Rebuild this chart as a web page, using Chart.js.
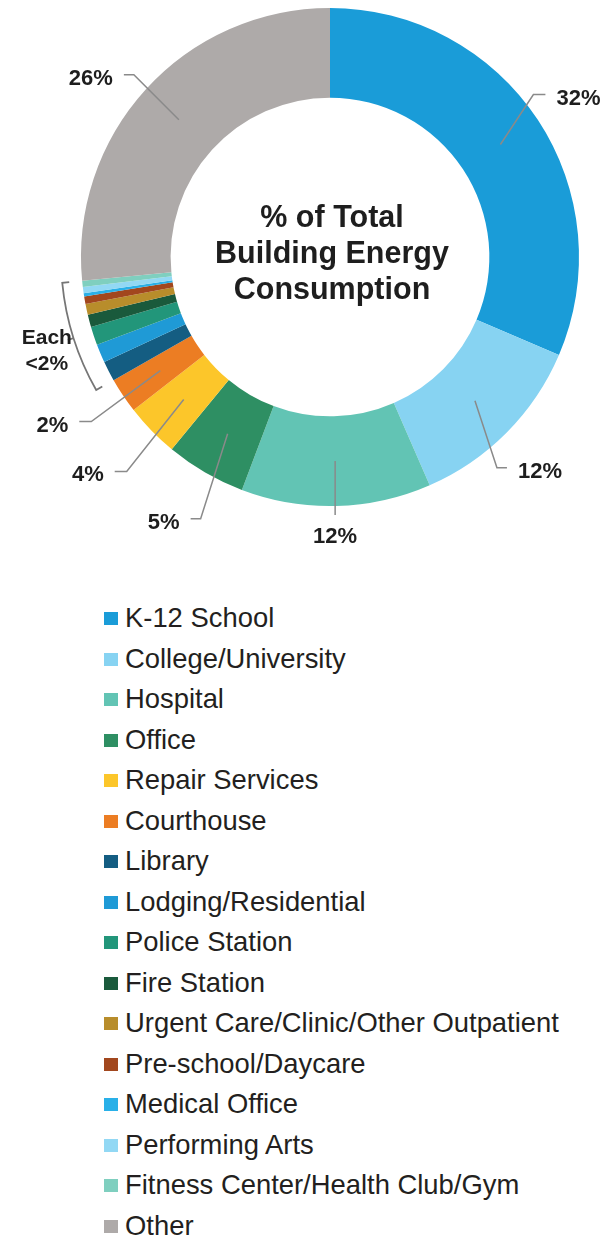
<!DOCTYPE html>
<html>
<head>
<meta charset="utf-8">
<script src="https://cdn.jsdelivr.net/npm/chart.js@4.4.1/dist/chart.umd.min.js"></script>
<style>
  html, body { margin: 0; padding: 0; background: #fff; }
  body { width: 614px; height: 1239px; position: relative; overflow: hidden; }
  #donut { position: absolute; left: 0; top: 0; }
  #legend { position: absolute; left: 0; top: 598px; width: 614px;
    font-family: "Liberation Sans", Arial, Helvetica, sans-serif; font-size: 27.4px; color: #231f20; }
  .item { position: relative; height: 40.5px; line-height: 40.5px; white-space: nowrap; }
  .box { position: absolute; left: 104px; top: 14px; width: 14px; height: 13px; }
  .text { position: absolute; left: 125px; top: 0; }
</style>
</head>
<body>
<canvas id="donut" width="614" height="575"></canvas>
<div id="legend"></div>
<script>
// Data

const categories = ["K-12 School", "College/University", "Hospital", "Office", "Repair Services",
    "Courthouse", "Library", "Lodging/Residential", "Police Station", "Fire Station",
    "Urgent Care/Clinic/Other Outpatient", "Pre-school/Daycare", "Medical Office",
    "Performing Arts", "Fitness Center/Health Club/Gym", "Other"];
const shares = [31.4, 12.0, 12.3, 5.2, 3.5, 2.3, 1.3, 1.2, 1.2, 0.8, 0.7, 0.5, 0.2, 0.4, 0.4, 26.5];
const sliceLabels = ["32%", "12%", "12%", "5%", "4%", "2%", null, null, null, null, null, null, null, null, null, "26%"];
const colors = ["#1a9cd8", "#87d3f2", "#62c4b4", "#2e8f63", "#fcc62a", "#ec7d23", "#145d82", "#1f9ad6",
    "#22967a", "#1a5a3c", "#b88d2b", "#a2471e", "#29b0e8", "#92d8f4", "#7fcfbf", "#aeaaa9"];
const centerTitle = ["% of Total", "Building Energy", "Consumption"];
const smallNote = ["Each", "<2%"];

// Leader line layout: elbow offset from the slice middle, then a short horizontal run
const leaders = {
    0: { dx: 33, dy: -50, run: 12 },
    1: { dx: 22, dy: 67, run: 10 },
    2: { dx: 0, dy: 54, run: 0 },
    3: { dx: -27, dy: 85, run: -10 },
    4: { dx: -57, dy: 72, run: -12 },
    5: { dx: -69, dy: 51, run: -12 },
    15: { dx: -45, dy: -45, run: -10 },
};

const FONT = '"Liberation Sans", Arial, Helvetica, sans-serif';

const annotations = {
    id: "annotations",
    afterDatasetsDraw(chart) {
        const ctx = chart.ctx;
        const arcs = chart.getDatasetMeta(0).data;
        const cx = arcs[0].x, cy = arcs[0].y;
        ctx.save();

        // title in the hole
        ctx.fillStyle = "#1e1e1e";
        ctx.textAlign = "center";
        ctx.textBaseline = "alphabetic";
        ctx.font = "bold 30.5px " + FONT;
        [-30, 6, 42].forEach((off, i) => ctx.fillText(centerTitle[i], cx + 2, cy + off));

        // leader lines + percentages
        ctx.strokeStyle = "#8a8a8a";
        ctx.lineWidth = 1.5;
        ctx.font = "bold 22px " + FONT;
        sliceLabels.forEach((text, i) => {
            if (!text) return;
            const arc = arcs[i];
            const mid = (arc.startAngle + arc.endAngle) / 2;
            const rMid = (arc.innerRadius + arc.outerRadius) / 2;
            const x0 = arc.x + Math.cos(mid) * rMid;
            const y0 = arc.y + Math.sin(mid) * rMid;
            const l = leaders[i];
            const x1 = x0 + l.dx, y1 = y0 + l.dy;
            const x2 = x1 + l.run;
            ctx.beginPath();
            ctx.moveTo(x0, y0);
            ctx.lineTo(x1, y1);
            ctx.lineTo(x2, y1);
            ctx.stroke();
            if (l.run > 0) {
                ctx.textAlign = "left";
                ctx.fillText(text, x2 + 11, y1 + 10);
            } else if (l.run < 0) {
                ctx.textAlign = "right";
                ctx.fillText(text, x2 - 11, y1 + 10);
            } else {
                ctx.textAlign = "center";
                ctx.fillText(text, x2, y1 + 28);
            }
        });

        // bracket round the small slices (Library .. Fitness)
        const first = arcs[6], last = arcs[14];
        const R = first.outerRadius + 20;
        const a0 = first.startAngle, a1 = last.endAngle;
        ctx.strokeStyle = "#767676";
        ctx.lineWidth = 1.8;
        ctx.beginPath();
        ctx.moveTo(cx + Math.cos(a0) * (R - 7), cy + Math.sin(a0) * (R - 7));
        ctx.lineTo(cx + Math.cos(a0) * R, cy + Math.sin(a0) * R);
        ctx.arc(cx, cy, R, a0, a1, false);
        ctx.lineTo(cx + Math.cos(a1) * (R - 7), cy + Math.sin(a1) * (R - 7));
        ctx.stroke();
        const am = (a0 + a1) / 2;
        const tx = cx + Math.cos(am) * (R + 6), ty = cy + Math.sin(am) * (R + 6);
        ctx.beginPath();
        ctx.moveTo(cx + Math.cos(am) * R, cy + Math.sin(am) * R);
        ctx.lineTo(tx, ty);
        ctx.stroke();
        ctx.textAlign = "center";
        ctx.font = "bold 21px " + FONT;
        ctx.fillText(smallNote[0], tx - 21, ty + 4);
        ctx.fillText(smallNote[1], tx - 21, ty + 30);

        ctx.restore();
    }
};

const chart = new Chart("donut", {
    type: "doughnut",
    data: {
        labels: categories,
        datasets: [{
            data: shares,
            backgroundColor: colors,
            borderWidth: 0,
            hoverBorderWidth: 0,
            offset: 0,
            hoverOffset: 0,
        }],
    },
    options: {
        responsive: false,
        animation: false,
        events: [],
        cutout: "64%",
        layout: { padding: { left: 81, right: 35, top: 8, bottom: 69 } },
        plugins: {
            legend: { display: false },
            tooltip: { enabled: false },
        },
    },
    plugins: [annotations],
});

// HTML legend, one entry per line
const legendEl = document.getElementById("legend");
chart.data.labels.forEach((label, i) => {
    const item = document.createElement("div");
    item.className = "item";
    item.innerHTML = `<span class="box" style="background:${chart.data.datasets[0].backgroundColor[i]}"></span><span class="text"></span>`;
    item.querySelector(".text").textContent = label;
    legendEl.appendChild(item);
});
</script>
</body>
</html>
